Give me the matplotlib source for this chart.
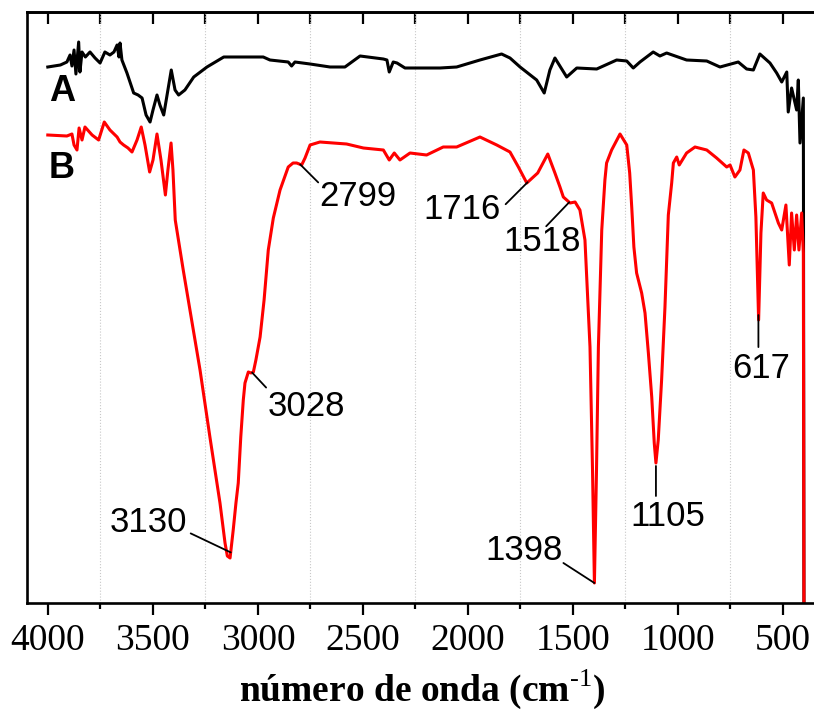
import numpy as np
import matplotlib
matplotlib.use('Agg')
import matplotlib.pyplot as plt
from matplotlib.ticker import MultipleLocator

plt.rcParams['mathtext.fontset'] = 'custom'
plt.rcParams['mathtext.rm'] = 'Liberation Serif'
plt.rcParams['mathtext.bf'] = 'Liberation Serif:bold'

# spectrum A (black), wavenumber in cm-1 and transmittance (arbitrary units)
wn_a = [4001, 3941, 3910, 3895, 3886, 3876, 3867, 3854, 3848, 3838, 3822, 3800, 3776, 3752,
        3729, 3705, 3686, 3671, 3662, 3657, 3648, 3624, 3592, 3571, 3552, 3533, 3514, 3500,
        3481, 3467, 3449, 3429, 3413, 3395, 3378, 3348, 3306, 3243, 3163, 3100, 2975, 2943,
        2856, 2840, 2824, 2752, 2657, 2586, 2514, 2403, 2386, 2375, 2356, 2338, 2300, 2133,
        2054, 1943, 1840, 1800, 1752, 1673, 1637, 1610, 1586, 1530, 1482, 1387, 1292, 1244,
        1213, 1181, 1118, 1086, 1054, 959, 863, 800, 713, 673, 641, 610, 562, 530, 506, 482,
        475, 459, 435, 427, 419, 403, 400]
t_a = [536, 538, 541, 548, 537, 553, 529, 561, 531, 551, 546, 551, 545, 540,
       551, 548, 551, 558, 546, 560, 543, 530, 510, 508, 505, 488, 481, 493,
       508, 498, 488, 513, 533, 513, 508, 513, 526, 536, 546, 546, 546, 543,
       541, 537, 541, 539, 536, 536, 547, 544, 543, 531, 541, 540, 535, 535,
       536, 543, 549, 545, 536, 523, 510, 533, 545, 526, 535, 534, 543, 542,
       535, 541, 551, 547, 550, 543, 542, 536, 541, 534, 533, 549, 540, 530, 521, 531,
       491, 515, 493, 523, 460, 505, -20]

# spectrum B (red)
wn_b = [4001, 3910, 3886, 3876, 3862, 3852, 3838, 3824, 3790, 3759, 3732, 3705, 3671, 3657,
        3640, 3619, 3600, 3576, 3556, 3538, 3516, 3500, 3481, 3462, 3441, 3429, 3414, 3405,
        3394, 3371, 3356, 3324, 3308, 3276, 3229, 3181, 3157, 3146, 3133, 3118, 3105, 3094,
        3082, 3070, 3062, 3046, 3033, 3022, 3010, 2990, 2971, 2951, 2927, 2895, 2856, 2833,
        2816, 2792, 2776, 2752, 2705, 2578, 2498, 2403, 2375, 2351, 2324, 2276, 2197, 2118,
        2054, 1943, 1863, 1800, 1760, 1720, 1668, 1620, 1586, 1562, 1546, 1514, 1490, 1467,
        1443, 1419, 1407, 1398, 1388, 1379, 1363, 1348, 1340, 1316, 1276, 1244, 1230, 1220,
        1210, 1197, 1173, 1157, 1141, 1125, 1113, 1105, 1094, 1078, 1062, 1046, 1030, 1022,
        1006, 994, 959, 919, 863, 816, 768, 752, 729, 705, 686, 665, 641, 629, 616,
        605, 594, 578, 554, 522, 506, 486, 470, 459, 446, 435, 424, 411, 403, 400]
t_b = [468, 467, 469, 458, 453, 475, 463, 476, 468, 463, 481, 473, 466, 461,
       458, 455, 451, 463, 476, 458, 431, 443, 469, 443, 408, 433, 460, 433,
       383, 353, 333, 293, 273, 233, 166, 100, 60, 47, 45, 73, 100, 120,
       166, 203, 220, 231, 230, 231, 243, 266, 303, 353, 385, 413, 436, 440,
       440, 438, 445, 458, 461, 459, 455, 453, 443, 450, 443, 450, 448, 456,
       456, 466, 458, 451, 436, 420, 430, 449, 430, 416, 406, 400, 401, 393,
       363, 256, 133, 20, 133, 256, 373, 423, 440, 453, 469, 458, 430, 395,
       356, 330, 310, 290, 250, 206, 160, 140, 163, 223, 296, 388, 420, 440,
       446, 438, 450, 456, 453, 445, 436, 438, 426, 433, 453, 450, 433, 386, 283,
       370, 410, 403, 400, 380, 373, 398, 338, 390, 353, 388, 353, 390, 350, -20]

# labelled bands on spectrum B
peak_labels = ['3130', '3028', '2799', '1716', '1518', '1398', '1105', '617']
# (line end offset, text centre offset) in pixels from the band
line_off = [(-40, 19), (14, -15), (18, -18), (-22, -22), (-23, -24), (-31, 20), (0, -33), (0, -35)]
text_off = [(-82, 30), (54, -34), (58, -32), (-66, -27), (-27, -39), (-70, 32), (12, -53), (3, -56)]
line_gap = [0, 0, 0, 0, 0, 0, 3, 3]

fig = plt.figure(figsize=(8.14, 7.15), dpi=100)
ax = fig.add_axes([27 / 814, 112 / 715, 790 / 814, 591 / 715])

ax.plot(wn_a, t_a, color='black', lw=2.2)
ax.plot(wn_b, t_b, color='#ff0000', lw=2.2)

ax.set_xlim(4100, 338)
ax.set_ylim(0, 591)
ax.set_yticks([])

ax.xaxis.set_major_locator(MultipleLocator(500))
ax.tick_params(axis='x', which='major', direction='out', length=8.6, width=1.6, pad=6,
               labelsize=27)
ax.tick_params(axis='x', which='minor', direction='out', length=4.3, width=1.6)
for lab in ax.get_xticklabels():
    lab.set_fontfamily('Liberation Serif')
ax.set_xticks(np.arange(3750, 300, -500), minor=True)
ax.grid(True, which='minor', axis='x', color='#c8c8c8', lw=0.8, ls=':')

top = ax.secondary_xaxis('top')
top.set_xticks(np.arange(4000, 300, -250))
top.tick_params(direction='in', length=8.6, width=1.6, labeltop=False)
top.spines['top'].set_linewidth(1.9)

for s in ax.spines.values():
    s.set_linewidth(1.9)

ax.set_xlabel('número de onda (cm$^{\\text{-1}}$)', family='Liberation Serif',
              fontweight='bold', fontsize=27, labelpad=7)

wn_rev = np.array(wn_b)[::-1]
t_rev = np.array(t_b)[::-1]
for lab, lo, to, gap in zip(peak_labels, line_off, text_off, line_gap):
    w = float(lab)
    y = np.interp(w, wn_rev, t_rev)
    ax.annotate('', xy=(w, y), xytext=lo, textcoords='offset pixels',
                arrowprops=dict(arrowstyle='-', color='black', lw=1.3,
                                shrinkA=0, shrinkB=gap * 0.72))
    ax.annotate(lab, xy=(w, y), xytext=to, textcoords='offset pixels',
                ha='center', va='center', fontsize=25, family='Liberation Sans')

ax.text(3995, 511, 'A', fontsize=26, fontweight='bold', family='Liberation Sans',
        ha='left', va='center')
ax.text(3995, 434, 'B', fontsize=26, fontweight='bold', family='Liberation Sans',
        ha='left', va='center')

fig.savefig('out.png', dpi=100)
